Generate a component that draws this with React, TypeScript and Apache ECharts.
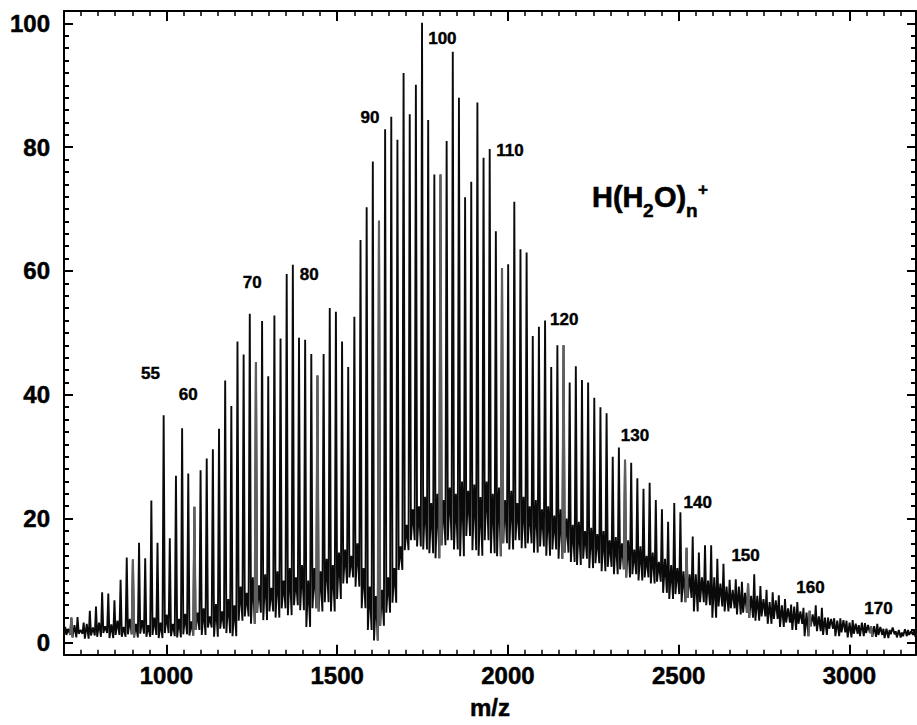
import React, { useEffect, useRef } from "react";
import * as echarts from "echarts";

// ---- data (cluster size n = 39 .. 177) ----
const firstCluster = 39;
const waterMass = 18.015;
const protonMass = 1.008;

// main peak height for each cluster H(H2O)n+
const peakHeights = [
  2.5,
  4.0, 4.1, 3.2, 5.1, 5.8, 8.1, 7.9, 6.8, 10.1, 13.7,
  13.4, 16.1, 13.6, 22.9, 16.1, 36.7, 16.8, 26.9, 34.6, 27.3,
  21.9, 27.8, 29.7, 31.2, 34.5, 42.3, 38.2, 48.6, 46.5, 53.1,
  45.3, 51.9, 43.0, 52.8, 49.1, 59.5, 61.0, 49.2, 48.9, 46.6,
  43.1, 46.6, 54.0, 53.4, 48.6, 44.5, 52.6, 65.0, 70.3, 77.7,
  68.1, 82.9, 84.9, 81.2, 92.0, 85.3, 90.1, 100.1, 84.4, 75.6,
  75.6, 81.0, 95.4, 88.0, 71.9, 74.4, 87.2, 78.3, 79.7, 66.4,
  60.5, 61.1, 71.2, 63.5, 63.0, 49.5, 51.0, 52.0, 44.5, 48.0,
  48.0, 42.0, 44.6, 42.4, 42.0, 39.5, 38.0, 37.0, 30.0, 31.5,
  29.5, 29.0, 26.5, 24.8, 25.8, 23.0, 21.5, 19.5, 22.5, 21.0,
  15.3, 17.1, 14.5, 15.7, 15.7, 13.5, 12.7, 10.1, 10.2, 9.8,
  9.5, 11.0, 9.1, 8.5, 8.1, 7.6, 7.0, 6.1, 6.5, 5.6,
  5.1, 6.0, 5.6, 4.0, 3.9, 3.9, 3.5, 3.6, 2.8, 3.1,
  2.6, 3.0, 2.2, 2.0, 1.8, 1.6, 2.0, 2.1,
];

// baseline level in the gap after each main peak
const valleyLevels = [
  1.2,
  0.8, 1.4, 0.6, 1.1, 0.9, 1.5, 0.7, 1.2, 0.9, 1.3,
  0.8, 1.4, 0.9, 1.2, 0.7, 1.5, 1.0, 0.8, 1.3, 1.1,
  2.0, 1.2, 2.4, 0.9, 2.2, 1.5, 1.0, 3.5, 4.2, 3.0,
  4.8, 3.6, 5.0, 4.0, 5.5, 4.4, 6.0, 5.2, 2.5, 5.5,
  5.0, 6.5, 5.0, 7.0, 9.5, 10.5, 9.0, 5.5, 2.0, 0.3,
  2.7, 4.8, 6.4, 11.7, 14.9, 16.5, 15.5, 15.0, 14.4, 13.6,
  15.7, 16.5, 15.0, 13.9, 17.2, 14.9, 14.0, 16.5, 14.4, 13.9,
  16.0, 15.0, 16.5, 15.2, 16.0, 14.5, 15.5, 14.0, 15.0, 13.5,
  14.5, 13.0, 12.5, 13.5, 12.0, 12.8, 11.5, 12.2, 11.0, 11.8,
  10.5, 11.0, 10.0, 10.5, 9.5, 9.8, 8.0, 7.0, 7.8, 6.5,
  7.2, 5.0, 6.5, 6.0, 4.0, 5.8, 5.0, 5.5, 4.5, 4.8,
  4.0, 3.5, 4.2, 3.0, 3.8, 2.5, 3.2, 2.0, 3.0, 1.0,
  2.6, 1.8, 1.2, 2.2, 1.0, 1.6, 0.8, 1.4, 1.0, 1.5,
  0.9, 1.2, 0.7, 1.3, 0.8, 1.0, 1.2, 0.9,
];

// minor (shoulder) peak between consecutive main peaks
const shoulderLevels = [
  2.2,
  2.8, 2.0, 3.0, 2.4, 3.2, 2.6, 2.9, 3.5, 2.5, 3.8,
  3.0, 3.6, 2.8, 4.0, 3.2, 4.5, 3.0, 3.8, 4.6, 3.4,
  4.8, 5.5, 4.2, 6.2, 5.0, 7.0, 6.0, 9.0, 8.0, 10.5,
  9.2, 11.0, 8.8, 11.5, 10.0, 12.0, 10.5, 12.5, 10.0, 12.0,
  11.5, 13.5, 12.5, 14.5, 15.0, 14.0, 16.0, 12.0, 9.0, 7.5,
  8.5, 10.5, 12.0, 15.5, 19.0, 21.5, 22.0, 23.5, 22.5, 24.0,
  23.0, 25.0, 24.0, 26.0, 24.5, 25.5, 23.5, 26.0, 24.0, 25.0,
  23.0, 24.5, 22.5, 23.5, 22.0, 23.0, 21.5, 22.0, 20.5, 21.5,
  20.0, 19.0, 19.5, 18.0, 18.5, 17.5, 18.0, 16.5, 17.0, 16.0,
  16.5, 15.0, 15.5, 14.0, 14.5, 13.0, 13.5, 12.5, 12.0, 11.5,
  11.0, 11.0, 10.5, 10.0, 10.5, 9.5, 9.0, 8.5, 9.0, 8.0,
  7.5, 7.5, 7.0, 6.5, 6.8, 6.0, 5.5, 5.8, 5.0, 4.8,
  4.5, 4.2, 4.0, 3.8, 3.5, 3.6, 3.2, 3.0, 3.2, 2.8,
  2.6, 2.5, 2.2, 2.4, 2.0, 2.1, 1.8, 2.0,
];

const startLevel = 1.2;
const highlightEvery = 10; // every 10th cluster is drawn grey

const xTickValues = [1000, 1500, 2000, 2500, 3000];
const yTickValues = [0, 20, 40, 60, 80, 100];

const clusterLabelText = ["55", "60", "70", "80", "90", "100", "110", "120", "130", "140", "150", "160", "170"];
const clusterLabelMz = [953, 1064, 1251, 1418, 1596, 1808, 2006, 2165, 2372, 2556, 2696, 2886, 3085];
const clusterLabelY = [43.4, 40.0, 58.2, 59.4, 84.8, 97.5, 79.5, 52.2, 33.4, 22.6, 14.0, 8.8, 5.5];

const FONT = "'Liberation Sans', Arial, Helvetica, sans-serif";

const clusterMz = (n: number) => waterMass * n + protonMass;

function buildOption() {
  const spectrum: number[][] = [[700, startLevel]];
  const greySeries: any[] = [];
  for (let i = 0; i < peakHeights.length; i++) {
    const n = firstCluster + i;
    const m = clusterMz(n);
    spectrum.push([m, peakHeights[i]]);
    spectrum.push([m + 3.5, valleyLevels[i]]);
    spectrum.push([m + 9, shoulderLevels[i]]);
    spectrum.push([m + 14.5, valleyLevels[i]]);
    if (n % highlightEvery === 0 && i > 0) {
      greySeries.push({
        type: "line",
        xAxisIndex: 0,
        yAxisIndex: 0,
        symbol: "none",
        silent: true,
        z: 3,
        lineStyle: { color: "#5f5f5f", width: 2.2, join: "bevel" },
        data: [
          [m - 3.5, valleyLevels[i - 1]],
          [m, peakHeights[i]],
          [m + 3.5, valleyLevels[i]],
        ],
      });
    }
  }

  const axisLineStyle = { color: "#000", width: 2 };
  const tickStyle = { color: "#000", width: 2 };
  const labelStyle = {
    fontSize: 24,
    fontWeight: "bold",
    color: "#000",
    fontFamily: FONT,
    textBorderColor: "#000",
    textBorderWidth: 0.5,
    formatter: (v: number) => String(v),
  };

  const xCommon = { type: "value", min: 700, max: 3195, splitLine: { show: false } };
  const yCommon = { type: "value", min: -2, max: 102, splitLine: { show: false } };

  return {
    animation: false,
    backgroundColor: "#fff",
    grid: { left: 64, right: 1, top: 11, bottom: 63, containLabel: false },
    xAxis: [
      {
        ...xCommon,
        position: "bottom",
        axisLine: { show: true, onZero: false, lineStyle: axisLineStyle },
        axisTick: { show: true, inside: true, length: 10, lineStyle: tickStyle, customValues: xTickValues },
        axisLabel: { ...labelStyle, margin: 9, customValues: xTickValues },
        name: "m/z",
        nameLocation: "middle",
        nameGap: 41,
        nameTextStyle: {
          fontSize: 24,
          fontWeight: "bold",
          color: "#000",
          fontFamily: FONT,
          textBorderColor: "#000",
          textBorderWidth: 0.5,
        },
      },
      {
        ...xCommon,
        position: "bottom",
        interval: 50,
        axisLine: { show: false, onZero: false },
        axisTick: { show: true, inside: true, length: 5, lineStyle: { color: "#000", width: 1.5 } },
        axisLabel: { show: false },
      },
      {
        ...xCommon,
        position: "top",
        axisLine: { show: true, onZero: false, lineStyle: axisLineStyle },
        axisTick: { show: true, inside: true, length: 10, lineStyle: tickStyle, customValues: xTickValues },
        axisLabel: { show: false },
      },
      {
        ...xCommon,
        position: "top",
        interval: 50,
        axisLine: { show: false, onZero: false },
        axisTick: { show: true, inside: true, length: 5, lineStyle: { color: "#000", width: 1.5 } },
        axisLabel: { show: false },
      },
    ],
    yAxis: [
      {
        ...yCommon,
        position: "left",
        axisLine: { show: true, onZero: false, lineStyle: axisLineStyle },
        axisTick: { show: true, inside: true, length: 9, lineStyle: tickStyle, customValues: yTickValues },
        axisLabel: { ...labelStyle, margin: 14, customValues: yTickValues },
      },
      {
        ...yCommon,
        position: "left",
        interval: 2,
        axisLine: { show: false, onZero: false },
        axisTick: { show: true, inside: true, length: 5, lineStyle: tickStyle },
        axisLabel: { show: false },
      },
      {
        ...yCommon,
        position: "right",
        axisLine: { show: true, onZero: false, lineStyle: axisLineStyle },
        axisTick: { show: true, inside: true, length: 9, lineStyle: tickStyle, customValues: yTickValues },
        axisLabel: { show: false },
      },
      {
        ...yCommon,
        position: "right",
        interval: 2,
        axisLine: { show: false, onZero: false },
        axisTick: { show: true, inside: true, length: 5, lineStyle: tickStyle },
        axisLabel: { show: false },
      },
    ],
    series: [
      {
        type: "line",
        xAxisIndex: 0,
        yAxisIndex: 0,
        symbol: "none",
        silent: true,
        z: 2,
        lineStyle: { color: "#0a0a0a", width: 1.9, join: "bevel" },
        data: spectrum,
      },
      ...greySeries,
      {
        type: "scatter",
        xAxisIndex: 0,
        yAxisIndex: 0,
        symbolSize: 1,
        silent: true,
        z: 5,
        itemStyle: { color: "rgba(0,0,0,0)" },
        label: {
          show: true,
          position: "inside",
          formatter: "{b}",
          fontSize: 17,
          fontWeight: "bold",
          color: "#000",
          opacity: 1,
          fontFamily: FONT,
          textBorderColor: "#000",
          textBorderWidth: 0.4,
        },
        data: clusterLabelText.map((t, i) => ({ name: t, value: [clusterLabelMz[i], clusterLabelY[i]] })),
      },
    ],
    graphic: [
      { type: "text", x: 592, y: 197, style: { text: "H(H", font: `bold 29px ${FONT}`, fill: "#000", stroke: "#000", lineWidth: 0.6, verticalAlign: "middle", align: "left" } },
      { type: "text", x: 643, y: 210.5, style: { text: "2", font: `bold 19px ${FONT}`, fill: "#000", stroke: "#000", lineWidth: 0.5, verticalAlign: "middle", align: "left" } },
      { type: "text", x: 654, y: 197, style: { text: "O)", font: `bold 29px ${FONT}`, fill: "#000", stroke: "#000", lineWidth: 0.6, verticalAlign: "middle", align: "left" } },
      { type: "text", x: 686, y: 210.5, style: { text: "n", font: `bold 19px ${FONT}`, fill: "#000", stroke: "#000", lineWidth: 0.5, verticalAlign: "middle", align: "left" } },
      { type: "text", x: 703, y: 189, style: { text: "+", font: `bold 17px ${FONT}`, fill: "#000", stroke: "#000", lineWidth: 0.5, verticalAlign: "middle", align: "center" } },
    ],
  };
}

export default function App() {
  const ref = useRef<HTMLDivElement>(null);
  useEffect(() => {
    if (!ref.current) return;
    const chart = echarts.init(ref.current, null, { renderer: "svg" });
    chart.setOption(buildOption() as any);
    return () => chart.dispose();
  }, []);
  return (
    <div
      ref={ref}
      style={{ position: "fixed", left: 0, top: 0, width: 917, height: 725, background: "#fff" }}
    />
  );
}
